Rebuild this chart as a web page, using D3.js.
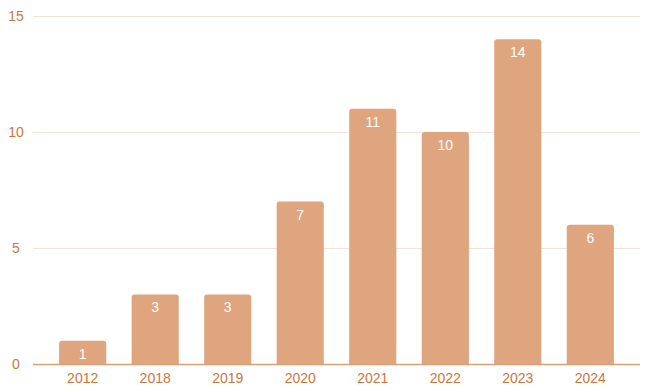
<!DOCTYPE html>
<html>
<head>
<meta charset="utf-8">
<script src="https://cdn.jsdelivr.net/npm/d3@7"></script>
<style>
  body { margin: 0; background: #fff; }
  svg text { font-family: "Liberation Sans", Arial, sans-serif; }
</style>
</head>
<body>
<div id="chart"></div>
<script>
// data
const years = ["2012", "2018", "2019", "2020", "2021", "2022", "2023", "2024"]
const counts = [1, 3, 3, 7, 11, 10, 14, 6]
const yTicks = [0, 5, 10, 15]

const width = 645, height = 388
const margin = {top: 16, right: 5, bottom: 24, left: 33}

const svg = d3.select("#chart").append("svg")
    .attr("width", width)
    .attr("height", height)

const x = d3.scaleBand()
    .domain(years)
    .range([margin.left, width - margin.right])
    .paddingInner(0.35)
    .paddingOuter(0.36)

const y = d3.scaleLinear()
    .domain([0, 15])
    .range([height - margin.bottom, margin.top])

// gridlines
svg.append("g")
    .selectAll("line")
    .data(yTicks.filter(d => d > 0))
    .join("line")
    .attr("x1", margin.left)
    .attr("x2", width - margin.right)
    .attr("y1", d => y(d) + 0.5)
    .attr("y2", d => y(d) + 0.5)
    .attr("stroke", "#f5e3d6")
    .attr("stroke-width", 1)

// y tick labels
svg.append("g")
    .selectAll("text")
    .data(yTicks)
    .join("text")
    .attr("x", 16)
    .attr("y", d => y(d))
    .attr("dy", "0.35em")
    .attr("text-anchor", "middle")
    .attr("fill", "#c8773f")
    .style("font-size", "14px")
    .text(d => d)

// bars with rounded tops
const r = 3
svg.append("g")
    .selectAll("path")
    .data(years)
    .join("path")
    .attr("fill", "#dfa57f")
    .attr("d", (d, i) => {
        const x0 = x(d), w = x.bandwidth()
        const y0 = y(counts[i]), y1 = y(0)
        return `M${x0},${y1} V${y0 + r} Q${x0},${y0} ${x0 + r},${y0} H${x0 + w - r} Q${x0 + w},${y0} ${x0 + w},${y0 + r} V${y1} Z`
    })

// value labels
svg.append("g")
    .selectAll("text")
    .data(years)
    .join("text")
    .attr("x", d => x(d) + x.bandwidth() / 2)
    .attr("y", (d, i) => y(counts[i]) + 13)
    .attr("dy", "0.35em")
    .attr("text-anchor", "middle")
    .attr("fill", "#fff")
    .style("font-size", "14px")
    .text((d, i) => counts[i])

// baseline
svg.append("line")
    .attr("x1", margin.left)
    .attr("x2", width - margin.right)
    .attr("y1", y(0) + 0.5)
    .attr("y2", y(0) + 0.5)
    .attr("stroke", "#d8a07b")
    .attr("stroke-width", 1.5)

// x labels
svg.append("g")
    .selectAll("text")
    .data(years)
    .join("text")
    .attr("x", d => x(d) + x.bandwidth() / 2)
    .attr("y", y(0) + 14)
    .attr("dy", "0.35em")
    .attr("text-anchor", "middle")
    .attr("fill", "#c8773f")
    .style("font-size", "14px")
    .text(d => d)
</script>
</body>
</html>
